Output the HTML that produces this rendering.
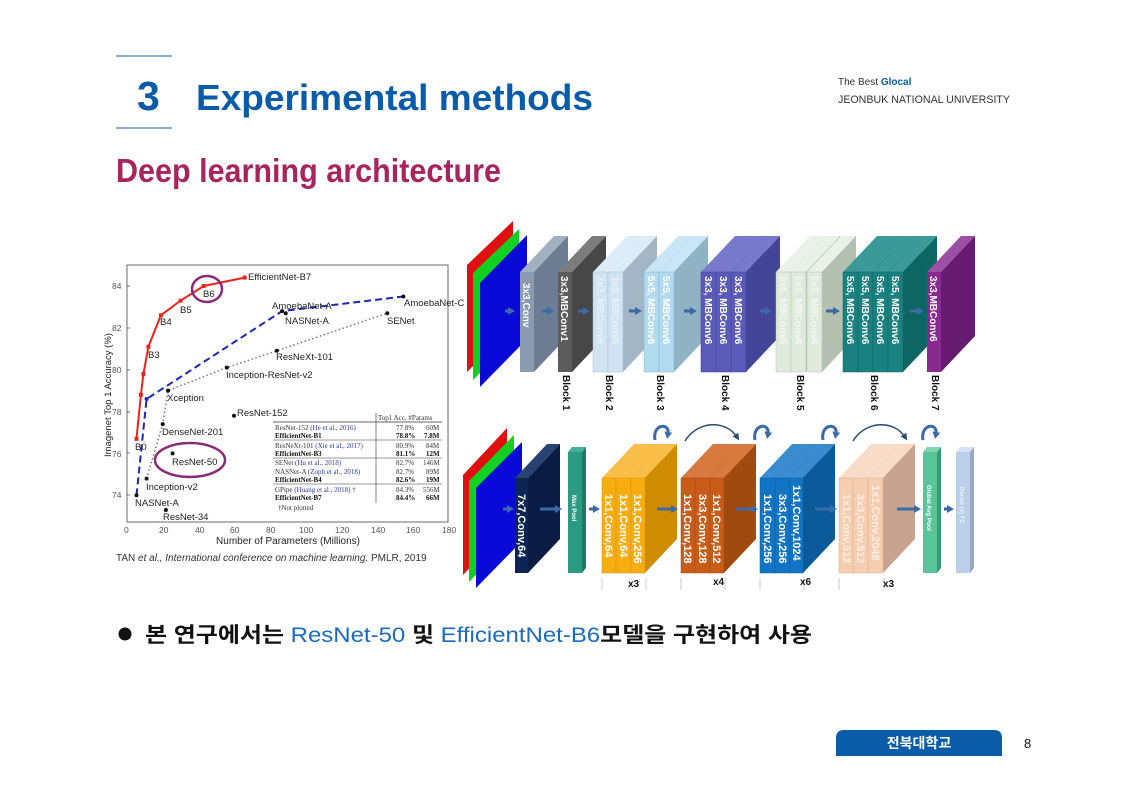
<!DOCTYPE html>
<html><head><meta charset="utf-8"><style>
html,body{margin:0;padding:0;background:#fff}
svg{display:block}
text{font-family:"Liberation Sans","Noto Sans CJK KR",sans-serif}
.sl{font-size:10px;font-weight:bold;fill:#fff}
.bl{font-size:10px;font-weight:bold;fill:#111}
.ch{font-size:9.5px;fill:#222}
.tb{font-family:"Liberation Serif",serif;font-size:7px;fill:#333}
.tbb{font-family:"Liberation Serif",serif;font-size:7px;fill:#111;font-weight:bold}
.ax{font-family:"Liberation Serif",serif;font-size:8.5px;fill:#555}
</style></head><body>
<svg width="1121" height="793" viewBox="0 0 1121 793" xmlns="http://www.w3.org/2000/svg">
<defs>
<marker id="ah" markerUnits="userSpaceOnUse" markerWidth="8" markerHeight="8" refX="2" refY="4" orient="auto"><path d="M0,0 L7,4 L0,8 z" fill="#3a6aa8"/></marker>
<marker id="ah2" markerUnits="userSpaceOnUse" markerWidth="7" markerHeight="7" refX="3" refY="3.5" orient="auto"><path d="M0,0 L7,3.5 L0,7 z" fill="#2a4a78"/></marker>
</defs>
<!-- header -->
<line x1="116" y1="56" x2="172" y2="56" stroke="#1a5fa8" stroke-width="1"/>
<line x1="116" y1="128" x2="172" y2="128" stroke="#1a5fa8" stroke-width="1"/>
<text x="137" y="110" font-size="41" font-weight="bold" fill="#0a5ca8">3</text>
<text x="196" y="110" font-size="36" font-weight="bold" fill="#0a5ca8" textLength="397" lengthAdjust="spacingAndGlyphs">Experimental methods</text>
<text x="838" y="85" font-size="10" fill="#333">The Best <tspan font-weight="bold" fill="#0a5ca8">Glocal</tspan></text>
<text x="838" y="103" font-size="11" fill="#333" textLength="172" lengthAdjust="spacingAndGlyphs">JEONBUK NATIONAL UNIVERSITY</text>
<text x="116" y="182" font-size="33" font-weight="bold" fill="#a8245e" textLength="385" lengthAdjust="spacingAndGlyphs">Deep learning architecture</text>

<!-- chart -->
<rect x="127" y="265" width="321" height="257" fill="none" stroke="#444" stroke-width="0.8"/>
<g class="ax">
<text x="112" y="289">84</text><text x="112" y="331">82</text><text x="112" y="373">80</text><text x="112" y="415">78</text><text x="112" y="457">76</text><text x="112" y="498">74</text>
<text x="124" y="533">0</text><text x="159" y="533">20</text><text x="195" y="533">40</text><text x="230" y="533">60</text><text x="266" y="533">80</text><text x="299" y="533">100</text><text x="335" y="533">120</text><text x="371" y="533">140</text><text x="406" y="533">160</text><text x="442" y="533">180</text>
</g>
<g stroke="#444" stroke-width="0.7">
<line x1="127" y1="286" x2="130" y2="286"/><line x1="127" y1="328" x2="130" y2="328"/><line x1="127" y1="370" x2="130" y2="370"/><line x1="127" y1="412" x2="130" y2="412"/><line x1="127" y1="453" x2="130" y2="453"/><line x1="127" y1="495" x2="130" y2="495"/>
</g>
<text x="111" y="395" font-size="9.5" fill="#222" transform="rotate(-90 111 395)" text-anchor="middle">Imagenet Top 1 Accuracy (%)</text>
<text x="288" y="544" font-size="10" fill="#222" text-anchor="middle">Number of Parameters (Millions)</text>
<text x="116" y="561" font-size="10" fill="#333">TAN <tspan font-style="italic">et al., International conference on machine learning.</tspan> PMLR, 2019</text>
<polyline points="146.6,478.6 162.7,424.1 168,390.6 226.8,367.6 276.8,350.8 387.3,313.2" fill="none" stroke="#777" stroke-width="1.5" stroke-dasharray="1.5,2.5"/>
<polyline points="136.5,495.3 146.6,399 282.1,311.1 403.4,296.5" fill="none" stroke="#1a28b8" stroke-width="2" stroke-dasharray="7,4"/>
<polyline points="136.5,438.8 140.9,394.8 143.4,373.9 148.4,346.7 160.9,315.3 180.5,300.7 203.7,286 244.7,277.6" fill="none" stroke="#e8241c" stroke-width="2"/>
<g fill="#e8241c">
<rect x="134.5" y="436.8" width="4" height="4"/><rect x="138.9" y="392.8" width="4" height="4"/><rect x="141.4" y="371.9" width="4" height="4"/><rect x="146.4" y="344.7" width="4" height="4"/><rect x="158.9" y="313.3" width="4" height="4"/><rect x="178.5" y="298.7" width="4" height="4"/><rect x="201.7" y="284" width="4" height="4"/><rect x="242.7" y="275.6" width="4" height="4"/>
</g>
<g fill="#111">
<circle cx="136.5" cy="495.3" r="2"/><circle cx="146.6" cy="399" r="2" fill="#1a28b8"/><circle cx="282.1" cy="311.1" r="2"/><circle cx="403.4" cy="296.5" r="2"/>
<circle cx="146.6" cy="478.6" r="2"/><circle cx="162.7" cy="424.1" r="2"/><circle cx="168" cy="390.6" r="2"/><circle cx="226.8" cy="367.6" r="2"/><circle cx="276.8" cy="350.8" r="2"/><circle cx="387.3" cy="313.2" r="2"/>
<circle cx="165.9" cy="510" r="2"/><circle cx="172.6" cy="453.4" r="2"/><circle cx="234" cy="415.8" r="2"/><circle cx="285.7" cy="313.2" r="2"/>
</g>
<g class="ch">
<text x="248" y="280">EfficientNet-B7</text>
<text x="203" y="297">B6</text><text x="180" y="313">B5</text><text x="160" y="325">B4</text><text x="148" y="358">B3</text><text x="135" y="450">B0</text>
<text x="272" y="309">AmoebaNet-A</text><text x="404" y="306">AmoebaNet-C</text>
<text x="285" y="324">NASNet-A</text><text x="387" y="324">SENet</text>
<text x="276" y="360">ResNeXt-101</text><text x="226" y="378">Inception-ResNet-v2</text>
<text x="167" y="401">Xception</text><text x="237" y="416">ResNet-152</text>
<text x="162" y="435">DenseNet-201</text><text x="172" y="465">ResNet-50</text>
<text x="146" y="490">Inception-v2</text><text x="135" y="506">NASNet-A</text><text x="163" y="520">ResNet-34</text>
</g>
<ellipse cx="207" cy="289" rx="15" ry="13" fill="none" stroke="#8a2a78" stroke-width="2.5"/>
<ellipse cx="190" cy="460" rx="35" ry="17" fill="none" stroke="#8a2a78" stroke-width="2.5"/>
<g>
<line x1="376" y1="413" x2="376" y2="503" stroke="#333" stroke-width="0.6"/>
<line x1="273" y1="422" x2="442" y2="422" stroke="#333" stroke-width="0.8"/>
<line x1="273" y1="440" x2="442" y2="440" stroke="#333" stroke-width="0.6"/>
<line x1="273" y1="458" x2="442" y2="458" stroke="#333" stroke-width="0.6"/>
<line x1="273" y1="484" x2="442" y2="484" stroke="#333" stroke-width="0.6"/>
<text class="tb" x="378" y="420">Top1 Acc.  #Params</text>
<text class="tb" x="275" y="430">ResNet-152 <tspan fill="#2a3a9a">(He et al., 2016)</tspan></text><text class="tb" x="396" y="430">77.8%</text><text class="tb" x="426" y="430">60M</text>
<text class="tbb" x="275" y="438">EfficientNet-B1</text><text class="tbb" x="396" y="438">78.8%</text><text class="tbb" x="424" y="438">7.8M</text>
<text class="tb" x="275" y="448">ResNeXt-101 <tspan fill="#2a3a9a">(Xie et al., 2017)</tspan></text><text class="tb" x="396" y="448">80.9%</text><text class="tb" x="426" y="448">84M</text>
<text class="tbb" x="275" y="456">EfficientNet-B3</text><text class="tbb" x="396" y="456">81.1%</text><text class="tbb" x="426" y="456">12M</text>
<text class="tb" x="275" y="465">SENet <tspan fill="#2a3a9a">(Hu et al., 2018)</tspan></text><text class="tb" x="396" y="465">82.7%</text><text class="tb" x="423" y="465">146M</text>
<text class="tb" x="275" y="474">NASNet-A <tspan fill="#2a3a9a">(Zoph et al., 2018)</tspan></text><text class="tb" x="396" y="474">82.7%</text><text class="tb" x="426" y="474">89M</text>
<text class="tbb" x="275" y="482">EfficientNet-B4</text><text class="tbb" x="396" y="482">82.6%</text><text class="tbb" x="426" y="482">19M</text>
<text class="tb" x="275" y="492">GPipe <tspan fill="#2a3a9a">(Huang et al., 2018)</tspan> †</text><text class="tb" x="396" y="492">84.3%</text><text class="tb" x="423" y="492">556M</text>
<text class="tbb" x="275" y="500">EfficientNet-B7</text><text class="tbb" x="396" y="500">84.4%</text><text class="tbb" x="426" y="500">66M</text>
<text class="tb" x="278" y="510">†Not plotted</text>
</g>

<!-- TOP ARCHITECTURE -->
<polygon points="467,265 513,221 513,326 467,372" fill="#e01010"/>
<polygon points="473,273 519,229 519,334 473,380" fill="#10d020"/>
<polygon points="480,283 527,235 527,339 480,387" fill="#0a0ad8"/>
<g>
<g transform="translate(520,272)"><polygon points="0,0 34,-36 48,-36 14,0" fill="#a2b0c2"/><polygon points="14,0 48,-36 48,64 14,100" fill="#6c7c92"/><rect width="14" height="100" fill="#8a9ab0"/></g>
<g transform="translate(558,272)"><polygon points="0,0 34,-36 48,-36 14,0" fill="#7c7c7c"/><polygon points="14,0 48,-36 48,64 14,100" fill="#474747"/><rect width="14" height="100" fill="#5c5c5c"/></g>
<g transform="translate(593,272)"><polygon points="0,0 34,-36 49,-36 15,0" fill="#dcecf8"/><polygon points="15,0 49,-36 49,64 15,100" fill="#a9bccc"/><rect width="15" height="100" fill="#cfe3f3" stroke="#a9bccc" stroke-width="0.5"/></g>
<g transform="translate(608,272)"><polygon points="0,0 34,-36 49,-36 15,0" fill="#dcecf8"/><polygon points="15,0 49,-36 49,64 15,100" fill="#a3b6c6"/><rect width="15" height="100" fill="#cfe3f3" stroke="#a9bccc" stroke-width="0.5"/></g>
<g transform="translate(644,272)"><polygon points="0,0 34,-36 49,-36 15,0" fill="#c8e6f6"/><polygon points="15,0 49,-36 49,64 15,100" fill="#8fb2c4"/><rect width="15" height="100" fill="#b0daf0" stroke="#8fb2c4" stroke-width="0.5"/></g>
<g transform="translate(659,272)"><polygon points="0,0 34,-36 49,-36 15,0" fill="#c8e6f6"/><polygon points="15,0 49,-36 49,64 15,100" fill="#8fb2c4"/><rect width="15" height="100" fill="#b0daf0" stroke="#8fb2c4" stroke-width="0.5"/></g>
<g transform="translate(701,272)"><polygon points="0,0 34,-36 49,-36 15,0" fill="#7878cc"/><polygon points="15,0 49,-36 49,64 15,100" fill="#444498"/><rect width="15" height="100" fill="#5a5ab8" stroke="#444498" stroke-width="0.5"/></g>
<g transform="translate(716,272)"><polygon points="0,0 34,-36 49,-36 15,0" fill="#7878cc"/><polygon points="15,0 49,-36 49,64 15,100" fill="#444498"/><rect width="15" height="100" fill="#5a5ab8" stroke="#444498" stroke-width="0.5"/></g>
<g transform="translate(731,272)"><polygon points="0,0 34,-36 49,-36 15,0" fill="#7878cc"/><polygon points="15,0 49,-36 49,64 15,100" fill="#444498"/><rect width="15" height="100" fill="#5a5ab8" stroke="#444498" stroke-width="0.5"/></g>
<g transform="translate(776,272)"><polygon points="0,0 34,-36 49,-36 15,0" fill="#eaf2e8"/><polygon points="15,0 49,-36 49,64 15,100" fill="#b8c4b4"/><rect width="15" height="100" fill="#dfe9dc" stroke="#b8c4b4" stroke-width="0.5"/></g>
<g transform="translate(791,272)"><polygon points="0,0 34,-36 49,-36 15,0" fill="#eaf2e8"/><polygon points="15,0 49,-36 49,64 15,100" fill="#b8c4b4"/><rect width="15" height="100" fill="#dfe9dc" stroke="#b8c4b4" stroke-width="0.5"/></g>
<g transform="translate(807,272)"><polygon points="0,0 34,-36 49,-36 15,0" fill="#eaf2e8"/><polygon points="15,0 49,-36 49,64 15,100" fill="#b4c0b0"/><rect width="15" height="100" fill="#dfe9dc" stroke="#b8c4b4" stroke-width="0.5"/></g>
<g transform="translate(843,272)"><polygon points="0,0 34,-36 49,-36 15,0" fill="#3a9a98"/><polygon points="15,0 49,-36 49,64 15,100" fill="#0e6664"/><rect width="15" height="100" fill="#1a8080" stroke="#0e6664" stroke-width="0.5"/></g>
<g transform="translate(858,272)"><polygon points="0,0 34,-36 49,-36 15,0" fill="#3a9a98"/><polygon points="15,0 49,-36 49,64 15,100" fill="#0e6664"/><rect width="15" height="100" fill="#1a8080" stroke="#0e6664" stroke-width="0.5"/></g>
<g transform="translate(873,272)"><polygon points="0,0 34,-36 49,-36 15,0" fill="#3a9a98"/><polygon points="15,0 49,-36 49,64 15,100" fill="#0e6664"/><rect width="15" height="100" fill="#1a8080" stroke="#0e6664" stroke-width="0.5"/></g>
<g transform="translate(888,272)"><polygon points="0,0 34,-36 49,-36 15,0" fill="#3a9a98"/><polygon points="15,0 49,-36 49,64 15,100" fill="#0e6664"/><rect width="15" height="100" fill="#1a8080" stroke="#0e6664" stroke-width="0.5"/></g>
<g transform="translate(927,272)"><polygon points="0,0 34,-36 48,-36 14,0" fill="#9c50a4"/><polygon points="14,0 48,-36 48,64 14,100" fill="#661a70"/><rect width="14" height="100" fill="#8a2a90"/></g>
</g>
<g class="sl">
<text transform="translate(523,283) rotate(90)">3x3,Conv</text>
<text transform="translate(561,276) rotate(90)">3x3,MBConv1</text>
<text transform="translate(597,276) rotate(90)" fill="#e6f2fa">3x3, MBConv6</text>
<text transform="translate(612,276) rotate(90)" fill="#e6f2fa">3x3, MBConv6</text>
<text transform="translate(648,276) rotate(90)">5x5, MBConv6</text>
<text transform="translate(663,276) rotate(90)">5x5, MBConv6</text>
<text transform="translate(705,276) rotate(90)">3x3, MBConv6</text>
<text transform="translate(720,276) rotate(90)">3x3, MBConv6</text>
<text transform="translate(735,276) rotate(90)">3x3, MBConv6</text>
<text transform="translate(780,276) rotate(90)" fill="#f4f8f2">5x5, MBConv6</text>
<text transform="translate(795,276) rotate(90)" fill="#f4f8f2">5x5, MBConv6</text>
<text transform="translate(811,276) rotate(90)" fill="#f4f8f2">5x5, MBConv6</text>
<text transform="translate(847,276) rotate(90)">5x5, MBConv6</text>
<text transform="translate(862,276) rotate(90)">5x5, MBConv6</text>
<text transform="translate(877,276) rotate(90)">5x5, MBConv6</text>
<text transform="translate(892,276) rotate(90)">5x5, MBConv6</text>
<text transform="translate(930,276) rotate(90)">3x3,MBConv6</text>
</g>
<g class="bl">
<text transform="translate(563,375) rotate(90)">Block 1</text>
<text transform="translate(606,375) rotate(90)">Block 2</text>
<text transform="translate(657,375) rotate(90)">Block 3</text>
<text transform="translate(722,375) rotate(90)">Block 4</text>
<text transform="translate(797,375) rotate(90)">Block 5</text>
<text transform="translate(871,375) rotate(90)">Block 6</text>
<text transform="translate(932,375) rotate(90)">Block 7</text>
</g>
<g stroke="#3a6aa8" stroke-width="3" marker-end="url(#ah)">
<line x1="505" y1="311" x2="510" y2="311"/><line x1="542" y1="311" x2="549" y2="311"/><line x1="578" y1="311" x2="585" y2="311"/><line x1="629" y1="311" x2="637" y2="311"/><line x1="684" y1="311" x2="692" y2="311"/><line x1="760" y1="311" x2="767" y2="311"/><line x1="826" y1="311" x2="835" y2="311"/><line x1="910" y1="311" x2="919" y2="311"/>
</g>

<!-- BOTTOM ARCHITECTURE -->
<polygon points="463,475 507,428 507,528 463,575" fill="#e01010"/>
<polygon points="469,481 514,435 514,535 469,582" fill="#10d020"/>
<polygon points="476,488 522,442 522,541 476,588" fill="#0a0ad8"/>
<g transform="translate(515,478)"><polygon points="0,0 32,-34 45,-34 13,0" fill="#2a4272"/><polygon points="13,0 45,-34 45,61 13,95" fill="#0a1c44"/><rect width="13" height="95" fill="#0c2456"/></g>
<g transform="translate(568,452)"><polygon points="0,0 4,-5 18,-5 14,0" fill="#48b09a"/><polygon points="14,0 18,-5 18,116 14,121" fill="#1e7a64"/><rect width="14" height="121" fill="#2a9a80"/></g>
<g>
<g transform="translate(602,478)"><polygon points="0,0 32,-34 46,-34 14,0" fill="#f9be48"/><polygon points="14,0 46,-34 46,61 14,95" fill="#d08c00"/><rect width="14" height="95" fill="#f7ac10" stroke="#d89400" stroke-width="0.5"/></g>
<g transform="translate(616,478)"><polygon points="0,0 32,-34 47,-34 15,0" fill="#f9be48"/><polygon points="15,0 47,-34 47,61 15,95" fill="#d08c00"/><rect width="15" height="95" fill="#f7ac10" stroke="#d89400" stroke-width="0.5"/></g>
<g transform="translate(631,478)"><polygon points="0,0 32,-34 46,-34 14,0" fill="#f9be48"/><polygon points="14,0 46,-34 46,61 14,95" fill="#d08c00"/><rect width="14" height="95" fill="#f7ac10" stroke="#d89400" stroke-width="0.5"/></g>
<g transform="translate(681,478)"><polygon points="0,0 32,-34 46,-34 14,0" fill="#d87a40"/><polygon points="14,0 46,-34 46,61 14,95" fill="#a04a10"/><rect width="14" height="95" fill="#c85c18" stroke="#a04a10" stroke-width="0.5"/></g>
<g transform="translate(695,478)"><polygon points="0,0 32,-34 47,-34 15,0" fill="#d87a40"/><polygon points="15,0 47,-34 47,61 15,95" fill="#a04a10"/><rect width="15" height="95" fill="#c85c18" stroke="#a04a10" stroke-width="0.5"/></g>
<g transform="translate(710,478)"><polygon points="0,0 32,-34 46,-34 14,0" fill="#d87a40"/><polygon points="14,0 46,-34 46,61 14,95" fill="#a04a10"/><rect width="14" height="95" fill="#c85c18" stroke="#a04a10" stroke-width="0.5"/></g>
<g transform="translate(760,478)"><polygon points="0,0 32,-34 47,-34 15,0" fill="#3a8cd0"/><polygon points="15,0 47,-34 47,61 15,95" fill="#0a5a9c"/><rect width="15" height="95" fill="#1274c4" stroke="#0a5a9c" stroke-width="0.5"/></g>
<g transform="translate(775,478)"><polygon points="0,0 32,-34 47,-34 15,0" fill="#3a8cd0"/><polygon points="15,0 47,-34 47,61 15,95" fill="#0a5a9c"/><rect width="15" height="95" fill="#1274c4" stroke="#0a5a9c" stroke-width="0.5"/></g>
<g transform="translate(790,478)"><polygon points="0,0 32,-34 45,-34 13,0" fill="#3a8cd0"/><polygon points="13,0 45,-34 45,61 13,95" fill="#0a5a9c"/><rect width="13" height="95" fill="#1274c4" stroke="#0a5a9c" stroke-width="0.5"/></g>
<g transform="translate(839,478)"><polygon points="0,0 32,-34 46,-34 14,0" fill="#f9dcc8"/><polygon points="14,0 46,-34 46,61 14,95" fill="#c8a490"/><rect width="14" height="95" fill="#f7cdb0" stroke="#d8b098" stroke-width="0.5"/></g>
<g transform="translate(853,478)"><polygon points="0,0 32,-34 47,-34 15,0" fill="#f9dcc8"/><polygon points="15,0 47,-34 47,61 15,95" fill="#c8a490"/><rect width="15" height="95" fill="#f7cdb0" stroke="#d8b098" stroke-width="0.5"/></g>
<g transform="translate(868,478)"><polygon points="0,0 32,-34 47,-34 15,0" fill="#f9dcc8"/><polygon points="15,0 47,-34 47,61 15,95" fill="#c8a490"/><rect width="15" height="95" fill="#f7cdb0" stroke="#d8b098" stroke-width="0.5"/></g>
</g>
<g transform="translate(923,452)"><polygon points="0,0 4,-5 18,-5 14,0" fill="#7cd4b0"/><polygon points="14,0 18,-5 18,116 14,121" fill="#3a9a74"/><rect width="14" height="121" fill="#58c49a"/></g>
<g transform="translate(956,452)"><polygon points="0,0 4,-5 18,-5 14,0" fill="#d4e2f2"/><polygon points="14,0 18,-5 18,116 14,121" fill="#96aac4"/><rect width="14" height="121" fill="#bccfe8"/></g>
<g class="sl">
<text transform="translate(518,494) rotate(90)" font-size="11">7x7,Conv,64</text>
<text transform="translate(572,495) rotate(90)" font-size="6">Max Pool</text>
<text transform="translate(605,494) rotate(90)" font-size="11">1x1,Conv,64</text>
<text transform="translate(620,494) rotate(90)" font-size="11">1x1,Conv,64</text>
<text transform="translate(634,494) rotate(90)" font-size="11">1x1,Conv,256</text>
<text transform="translate(684,494) rotate(90)" font-size="11">1x1,Conv,128</text>
<text transform="translate(699,494) rotate(90)" font-size="11">3x3,Conv,128</text>
<text transform="translate(713,494) rotate(90)" font-size="11">1x1,Conv,512</text>
<text transform="translate(764,494) rotate(90)" font-size="11">1x1,Conv,256</text>
<text transform="translate(779,494) rotate(90)" font-size="11">3x3,Conv,256</text>
<text transform="translate(793,485) rotate(90)" font-size="11">1x1,Conv,1024</text>
<text transform="translate(843,494) rotate(90)" font-size="11" fill="#fbeee4">1x1,Conv,512</text>
<text transform="translate(857,494) rotate(90)" font-size="11" fill="#fbeee4">3x3,Conv,512</text>
<text transform="translate(872,485) rotate(90)" font-size="11" fill="#fbeee4">1x1,Conv,2048</text>
<text transform="translate(927,485) rotate(90)" font-size="6">Global Avg Pool</text>
<text transform="translate(960,487) rotate(90)" font-size="6" fill="#e8f0fa">Dense (4) FC</text>
</g>
<g stroke="#3a6aa8" stroke-width="3" marker-end="url(#ah)">
<line x1="503" y1="509" x2="509" y2="509"/><line x1="540" y1="509" x2="557" y2="509"/><line x1="589" y1="509" x2="595" y2="509"/><line x1="657" y1="509" x2="673" y2="509"/><line x1="736" y1="509" x2="753" y2="509"/><line x1="815" y1="509" x2="832" y2="509"/><line x1="897" y1="509" x2="916" y2="509"/><line x1="944" y1="509" x2="949" y2="509"/>
</g>
<g fill="none" stroke="#3a6aa8" stroke-width="3" marker-end="url(#ah)">
<path d="M655,440 C652,424 670,422 668,434"/><path d="M755,440 C752,424 770,422 768,434"/><path d="M823,440 C820,424 838,422 836,434"/><path d="M923,440 C920,424 938,422 936,434"/>
</g>
<g fill="none" stroke="#2a4a78" stroke-width="1.5" marker-end="url(#ah2)">
<path d="M685,441 C698,420 726,420 737,437"/><path d="M853,441 C866,420 894,420 905,437"/>
</g>
<g fill="none" stroke="#bbb" stroke-width="0.8">
<path d="M602,578 v12 M646,578 v12"/>
<path d="M681,578 v12 M725,578 v12"/><path d="M760,578 v12 M804,578 v12"/><path d="M839,578 v12 M884,578 v12"/>
</g>
<g font-size="10" font-weight="bold" fill="#111">
<text x="628" y="587">x3</text><text x="713" y="585">x4</text><text x="800" y="585">x6</text><text x="883" y="587">x3</text>
</g>

<circle cx="125" cy="634" r="6.5" fill="#111"/>
<text x="145" y="642" font-size="21" font-weight="bold" fill="#111" textLength="667" lengthAdjust="spacingAndGlyphs">본 연구에서는 <tspan fill="#1a6abf" font-weight="normal">ResNet-50</tspan> 및 <tspan fill="#1a6abf" font-weight="normal">EfficientNet-B6</tspan>모델을 구현하여 사용</text>

<path d="M836,756 V738 Q836,730 844,730 H994 Q1002,730 1002,738 V756 Z" fill="#0a5ca8"/>
<text x="919" y="748" font-size="14" font-weight="bold" fill="#fff" text-anchor="middle">전북대학교</text>
<text x="1024" y="748" font-size="13" fill="#111">8</text>
</svg>
</body></html>
